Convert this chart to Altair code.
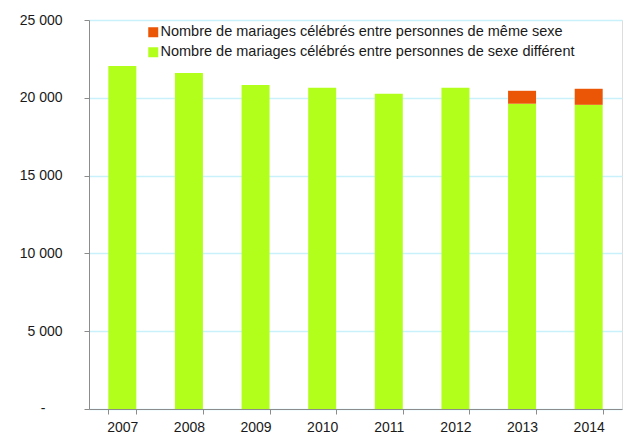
import altair as alt
import pandas as pd

years = ["2007", "2008", "2009", "2010", "2011", "2012", "2013", "2014"]
diff_sex = [22050, 21600, 20830, 20640, 20260, 20640, 19620, 19550]
same_sex = [0, 0, 0, 0, 0, 0, 830, 1030]

lab_same = "Nombre de mariages célébrés entre personnes de même sexe"
lab_diff = "Nombre de mariages célébrés entre personnes de sexe différent"

rows = []
for y, d, s in zip(years, diff_sex, same_sex):
    rows.append({"year": y, "series": lab_diff, "value": d, "ord": 0})
    rows.append({"year": y, "series": lab_same, "value": s, "ord": 1})
df = pd.DataFrame(rows)

FONT = "Liberation Sans"
TXT = "#1a1a1a"

yscale = alt.Scale(domain=[0, 25000], nice=False)

bars = alt.Chart(df).mark_bar().encode(
    x=alt.X("year:N", title=None,
            scale=alt.Scale(paddingInner=0.58, paddingOuter=0.29),
            axis=alt.Axis(labelAngle=0, tickBand="extent", domainColor="#8c8c8c",
                          tickColor="#8c8c8c", tickSize=5, labelPadding=6,
                          labelFont=FONT, labelFontSize=14, labelColor=TXT, grid=False)),
    y=alt.Y("value:Q", title=None, stack="zero", scale=yscale,
            axis=alt.Axis(values=[0, 5000, 10000, 15000, 20000, 25000],
                          labelExpr="datum.value == 0 ? '' : replace(format(datum.value, ','), ',', ' ')",
                          domainColor="#8c8c8c", tickColor="#8c8c8c", tickSize=5,
                          labelPadding=22,
                          labelFont=FONT, labelFontSize=14, labelColor=TXT,
                          gridColor="#c9f1fb", gridWidth=1.5)),
    color=alt.Color("series:N",
                    scale=alt.Scale(domain=[lab_same, lab_diff], range=["#ea5506", "#b3ff1c"]),
                    legend=alt.Legend(title=None, orient="none", legendX=57, legendY=5,
                                      symbolType="square", symbolSize=100, symbolStrokeWidth=0,
                                      labelFont=FONT, labelFontSize=14.5, labelColor=TXT,
                                      labelOffset=0, rowPadding=5, labelLimit=600)),
    order=alt.Order("ord:Q"),
)

zero_label = alt.Chart(pd.DataFrame({"v": [0], "t": ["-"]})).mark_text(
    font=FONT, fontSize=14, color=TXT, align="center", baseline="middle"
).encode(
    x=alt.value(-46),
    y=alt.Y("v:Q", scale=yscale),
    text="t:N",
)

chart = alt.layer(bars, zero_label).properties(
    width=533, height=389,
    autosize=alt.AutoSizeParams(type="none"),
    padding={"left": 89, "top": 20, "right": 5, "bottom": 26},
).configure_view(stroke="#c9f1fb", strokeWidth=1.5).configure(background="white")

chart.save("out.html", embed_options={"renderer": "svg", "actions": False})
